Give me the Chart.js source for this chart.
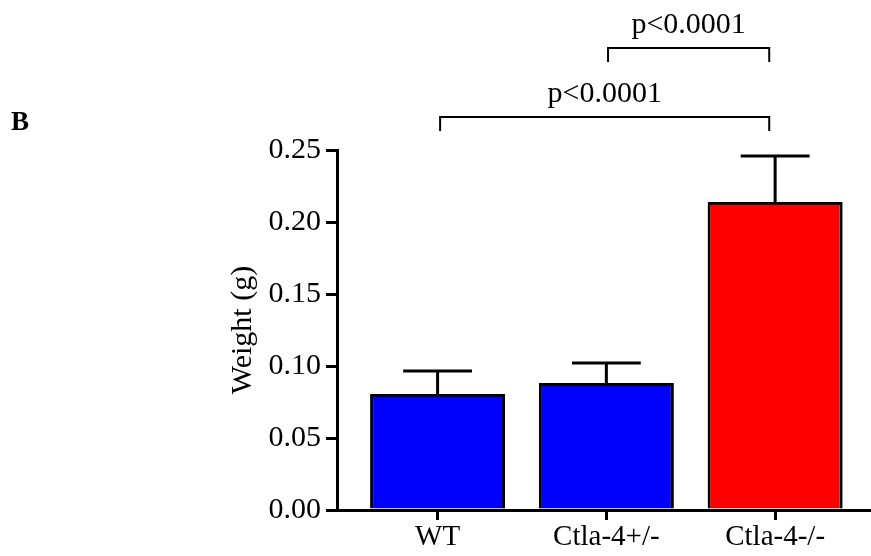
<!DOCTYPE html>
<html><head><meta charset="utf-8">
<script src="https://cdn.jsdelivr.net/npm/chart.js@4"></script>
<style>
html,body{margin:0;padding:0;background:#fff}
#wrap{position:relative;width:871px;height:556px}
#panel{position:absolute;left:11px;top:106px;font:bold 27px "Liberation Serif",serif;color:#000}
</style></head>
<body><div id="wrap"><canvas id="c" width="871" height="556"></canvas><div id="panel">B</div></div>
<script>
const categories = ['WT', 'Ctla-4+/-', 'Ctla-4-/-'];
const meanWeights = [0.0806, 0.0882, 0.2139];
const errorTops = [0.0965, 0.1020, 0.2458];
const barColors = ['#0000FF', '#0000FF', '#FF0000'];
const yTickStep = 0.05;
const yMin = 0, yMax = 0.25;
const pLabels = ['p<0.0001', 'p<0.0001'];
const bracketFrom = [0.015, 1.01];
const bracketTo = [1.965, 1.965];
const bracketLevels = [0.2729, 0.3208];
const bracketDrop = [0.0097, 0.0097];

const FONT = '"Liberation Serif", "Times New Roman", serif';

const errorBarPlugin = {
  id: 'errorBars',
  afterDatasetsDraw(chart) {
    const ctx = chart.ctx, y = chart.scales.y;
    const meta = chart.getDatasetMeta(0);
    ctx.save();
    ctx.strokeStyle = '#000';
    ctx.lineWidth = 3;
    meta.data.forEach((el, i) => {
      const top = y.getPixelForValue(errorTops[i]);
      const base = y.getPixelForValue(meanWeights[i]);
      const half = el.width * 0.255;
      ctx.beginPath();
      ctx.moveTo(el.x, base);
      ctx.lineTo(el.x, top);
      ctx.moveTo(el.x - half, top);
      ctx.lineTo(el.x + half, top);
      ctx.stroke();
    });
    ctx.restore();
  }
};

const bracketPlugin = {
  id: 'brackets',
  afterDraw(chart) {
    const ctx = chart.ctx, x = chart.scales.x, y = chart.scales.y;
    ctx.save();
    ctx.strokeStyle = '#000';
    ctx.fillStyle = '#000';
    ctx.lineWidth = 2;
    ctx.font = '30px ' + FONT;
    ctx.textAlign = 'center';
    ctx.textBaseline = 'alphabetic';
    pLabels.forEach((lab, i) => {
      const x1 = x.getPixelForValue(bracketFrom[i]);
      const x2 = x.getPixelForValue(bracketTo[i]);
      const yl = y.getPixelForValue(bracketLevels[i]);
      const yd = y.getPixelForValue(bracketLevels[i] - bracketDrop[i]);
      ctx.beginPath();
      ctx.moveTo(x1, yd);
      ctx.lineTo(x1, yl);
      ctx.lineTo(x2, yl);
      ctx.lineTo(x2, yd);
      ctx.stroke();
      ctx.fillText(lab, (x1 + x2) / 2, yl - 15);
    });
    ctx.restore();
  }
};

new Chart(document.getElementById('c'), {
  type: 'bar',
  data: {
    datasets: [{
      data: meanWeights.map((v, i) => ({ x: i, y: v })),
      backgroundColor: barColors,
      borderColor: '#000',
      borderWidth: 3,
      borderSkipped: 'start',
      barPercentage: 0.8,
      categoryPercentage: 1.0
    }]
  },
  options: {
    responsive: false,
    animation: false,
    layout: { padding: { left: 225, top: 150, right: 0, bottom: 0 } },
    plugins: { legend: { display: false }, tooltip: { enabled: false } },
    scales: {
      x: {
        type: 'linear',
        offset: false,
        bounds: 'data',
        min: -0.596,
        max: 2.568,
        afterBuildTicks(scale) { scale.ticks = categories.map((c, i) => ({ value: i })); },
        afterFit(scale) { scale.height = 46; },
        ticks: {
          autoSkip: false,
          maxRotation: 0,
          padding: 0,
          color: '#000',
          font: { family: FONT, size: 29 },
          callback: (v) => categories[v]
        },
        grid: { display: true, offset: false, drawOnChartArea: false, drawTicks: true, tickLength: 10, lineWidth: 3, color: '#000' },
        border: { display: true, width: 3, color: '#000' }
      },
      y: {
        min: yMin,
        max: yMax,
        afterFit(scale) { scale.width = 112; },
        ticks: {
          stepSize: yTickStep,
          padding: 5,
          color: '#000',
          font: { family: FONT, size: 30 },
          callback: (v) => v.toFixed(2)
        },
        title: { display: true, text: 'Weight (g)', color: '#000', font: { family: FONT, size: 30 }, padding: { top: 0, bottom: 0 } },
        grid: { display: true, drawOnChartArea: false, drawTicks: true, tickLength: 11, lineWidth: 3, color: '#000' },
        border: { display: true, width: 3, color: '#000' }
      }
    }
  },
  plugins: [errorBarPlugin, bracketPlugin]
});
</script>
</body></html>
